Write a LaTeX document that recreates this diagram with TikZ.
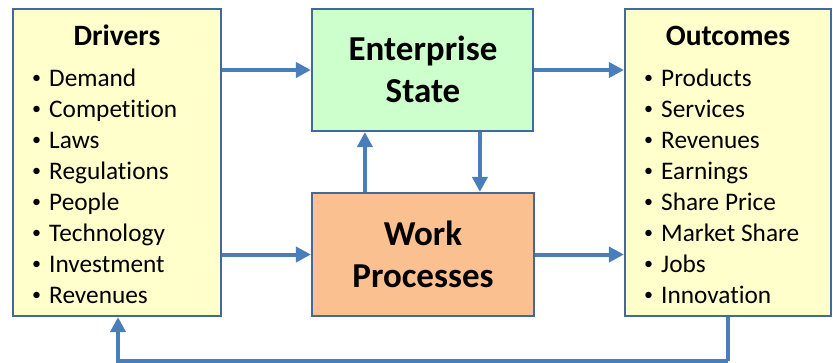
\documentclass[tikz,border=0pt]{standalone}
\usepackage{fontspec}
\setmainfont{Carlito}[Ligatures=NoCommon]
\usetikzlibrary{arrows.meta,calc}
\definecolor{boxline}{HTML}{41699B}
\definecolor{arrowc}{HTML}{4A7EBB}
\definecolor{yel}{HTML}{FFFFCC}
\definecolor{grn}{HTML}{CCFFCC}
\definecolor{org}{HTML}{FAC090}
\tikzset{
  box/.style={draw=boxline, line width=2.2pt, rectangle, inner sep=0pt},
  arr/.style={draw=arrowc, line width=4pt, -{Triangle[length=15pt,width=15pt]}},
  fb/.style={draw=arrowc, line width=4pt},
  ttl/.style={font=\fontsize{29.5}{33}\bfseries\selectfont, inner sep=0pt, anchor=base},
  big/.style={font=\fontsize{35}{40}\bfseries\selectfont, inner sep=0pt, anchor=base},
  itm/.style={font=\fontsize{25.3}{31}\selectfont, inner sep=0pt, anchor=base west},
  bul/.style={font=\fontsize{18}{20}\selectfont, inner sep=0pt, anchor=base, yshift=2.5pt},
}
\begin{document}
\begin{tikzpicture}[x=1pt,y=-1pt]
\useasboundingbox (0,0) rectangle (833,362);
% boxes
\node[box, fill=yel, minimum width=208pt, minimum height=307pt] (drv) at (117,162.5) {};
\node[box, fill=yel, minimum width=206pt, minimum height=307pt] (out) at (728,162.5) {};
\node[box, fill=grn, minimum width=221pt, minimum height=122pt] (ent) at (422.5,70) {};
\node[box, fill=org, minimum width=222pt, minimum height=123pt] (wrk) at (423,254.5) {};
% titles
\node[ttl] (drvt) at (117,45) {Drivers};
\node[ttl] (outt) at (728,45) {Outcomes};
\node[big] (ent1) at (423,60) {Enterprise};
\node[big] (ent2) at (423,102) {State};
\node[big] (wrk1) at (423,245) {Work};
\node[big] (wrk2) at (423,287) {Processes};
% lists
\foreach \t [count=\i] in {Demand,Competition,Laws,Regulations,People,Technology,Investment,Revenues}{
  \node[bul] (db\i) at (36.5,{86+31*(\i-1)}) {•};
  \node[itm] (di\i) at (49,{86+31*(\i-1)}) {\t};
}
\foreach \t [count=\i] in {Products,Services,Revenues,Earnings,Share Price,Market Share,Jobs,Innovation}{
  \node[bul] (ob\i) at (648.5,{86+31*(\i-1)}) {•};
  \node[itm] (oi\i) at (661,{86+31*(\i-1)}) {\t};
}
% connectors
\draw[arr] (drv.east |- ent.west) -- (ent.west);
\draw[arr] (ent.east) -- (out.west |- ent.east);
\draw[arr] (drv.east |- wrk.west) -- (wrk.west);
\draw[arr] (wrk.east) -- (out.west |- wrk.east);
\draw[arr] ([xshift=54pt]wrk.north west) -- ([xshift=54pt]ent.south west);
\draw[arr] ([xshift=169pt]ent.south west) -- ([xshift=169pt]wrk.north west);
\coordinate (fbr) at ($(out.south)+(0,44)$);
\draw[fb] (out.south) -- (fbr);
\draw[arr] (fbr) -| ([xshift=1pt]drv.south);
\end{tikzpicture}
\end{document}
